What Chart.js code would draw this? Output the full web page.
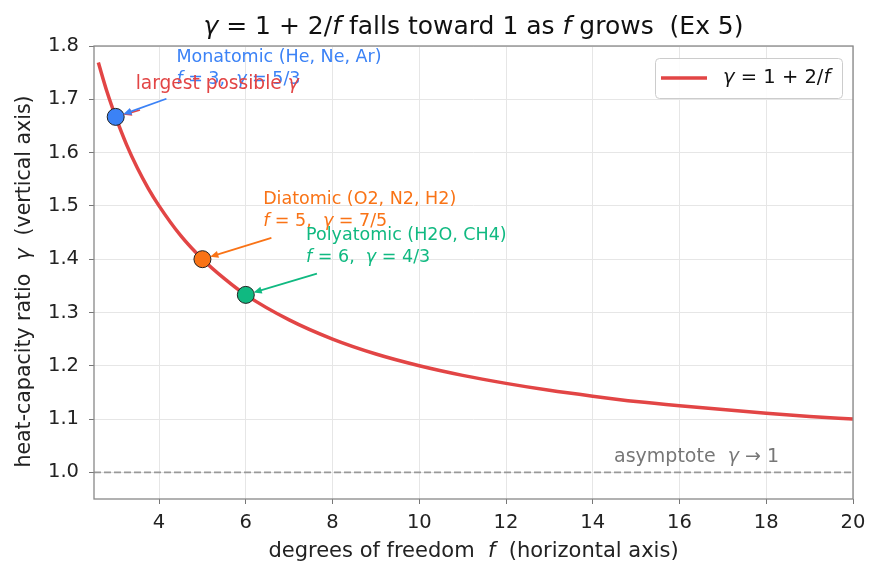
<!DOCTYPE html>
<html>
<head>
<meta charset="utf-8">
<script src="https://cdn.jsdelivr.net/npm/chart.js@4.4.1/dist/chart.umd.min.js"></script>
<style>
  html, body { margin: 0; padding: 0; background: #fff; }
  #wrap { width: 880px; height: 579px; }
</style>
</head>
<body>
<div id="wrap"><canvas id="chart" width="880" height="579"></canvas></div>
<script>
  // ── data ──────────────────────────────────────────────────────────────────
  const curveF = [2.6, 2.8, 3, 3.25, 3.5, 3.75, 4, 4.5, 5, 5.5, 6, 7, 8, 9, 10, 11, 12, 13, 14, 15, 16, 17, 18, 19, 20];
  const curveGamma = [1.769, 1.714, 1.667, 1.615, 1.571, 1.533, 1.5, 1.444, 1.4, 1.364, 1.333, 1.286, 1.25, 1.222, 1.2, 1.182, 1.167, 1.154, 1.143, 1.133, 1.125, 1.118, 1.111, 1.105, 1.1];

  const gasNames = ["Monatomic (He, Ne, Ar)", "Diatomic (O2, N2, H2)", "Polyatomic (H2O, CH4)"];
  const gasF = [3, 5, 6];
  const gasGamma = [1.667, 1.4, 1.333];
  const gasGammaText = ["5/3", "7/5", "4/3"];
  const gasColors = ["#3b82f6", "#f97316", "#10b981"];

  const xTicks = [4, 6, 8, 10, 12, 14, 16, 18, 20];
  const yTicks = [1.0, 1.1, 1.2, 1.3, 1.4, 1.5, 1.6, 1.7, 1.8];
  const asymptote = 1.0;

  const FONT = '"DejaVu Sans", sans-serif';
  const RED = "#e24545";

  // label anchors (data coordinates) for the callouts
  const labelAt = [
    { f: 4.40, g: 1.778, tail: [4.17, 1.701] },
    { f: 6.40, g: 1.512, tail: [6.59, 1.440] },
    { f: 7.39, g: 1.444, tail: [7.64, 1.373] },
  ];

  // ── helpers ───────────────────────────────────────────────────────────────
  function drawRich(ctx, parts, x, y, size, color, align) {
    ctx.save();
    ctx.fillStyle = color;
    ctx.textBaseline = "middle";
    ctx.textAlign = "left";
    let w = 0;
    parts.forEach(([t, it]) => {
      ctx.font = (it ? "italic " : "") + size + "px " + FONT;
      w += ctx.measureText(t).width;
    });
    let cx = align === "center" ? x - w / 2 : x;
    parts.forEach(([t, it]) => {
      ctx.font = (it ? "italic " : "") + size + "px " + FONT;
      ctx.fillText(t, cx, y);
      cx += ctx.measureText(t).width;
    });
    ctx.restore();
  }

  function arrow(ctx, x1, y1, x2, y2, color, shrink) {
    const a = Math.atan2(y2 - y1, x2 - x1);
    x2 -= Math.cos(a) * shrink;
    y2 -= Math.sin(a) * shrink;
    ctx.save();
    ctx.strokeStyle = color;
    ctx.fillStyle = color;
    ctx.lineWidth = 1.8;
    ctx.beginPath();
    ctx.moveTo(x1, y1);
    ctx.lineTo(x2 - Math.cos(a) * 4, y2 - Math.sin(a) * 4);
    ctx.stroke();
    ctx.beginPath();
    ctx.moveTo(x2, y2);
    ctx.lineTo(x2 - 9 * Math.cos(a - 0.4), y2 - 9 * Math.sin(a - 0.4));
    ctx.lineTo(x2 - 9 * Math.cos(a + 0.4), y2 - 9 * Math.sin(a + 0.4));
    ctx.closePath();
    ctx.fill();
    ctx.restore();
  }

  // ── extra drawing: frame, title, labels, callouts, legend ────────────────
  const decor = {
    id: "decor",
    beforeDatasetsDraw(chart) {
      const { ctx, chartArea: a, scales: { y } } = chart;
      // dashed asymptote
      const ya = y.getPixelForValue(asymptote);
      ctx.save();
      ctx.strokeStyle = "#999";
      ctx.lineWidth = 1.8;
      ctx.setLineDash([7, 3]);
      ctx.beginPath();
      ctx.moveTo(a.left, ya);
      ctx.lineTo(a.right, ya);
      ctx.stroke();
      ctx.restore();
    },
    afterDraw(chart) {
      const { ctx, chartArea: a, scales: { x, y } } = chart;

      // frame
      ctx.save();
      ctx.strokeStyle = "#888";
      ctx.lineWidth = 1.3;
      ctx.strokeRect(a.left, a.top, a.right - a.left, a.bottom - a.top);
      ctx.restore();

      // title
      drawRich(ctx, [["γ", true], [" = 1 + 2/", false], ["f", true], [" falls toward 1 as ", false], ["f", true], [" grows  (Ex 5)", false]],
        (a.left + a.right) / 2, 27, 25, "#111", "center");

      // axis titles
      drawRich(ctx, [["degrees of freedom  ", false], ["f", true], ["  (horizontal axis)", false]],
        (a.left + a.right) / 2, 552, 21, "#222", "center");
      ctx.save();
      ctx.translate(25, (a.top + a.bottom) / 2 + 9);
      ctx.rotate(-Math.PI / 2);
      drawRich(ctx, [["heat-capacity ratio  ", false], ["γ", true], ["  (vertical axis)", false]], 0, 0, 20.5, "#222", "center");
      ctx.restore();

      // asymptote label
      drawRich(ctx, [["asymptote  ", false], ["γ", true], [" → 1", false]],
        x.getPixelForValue(14.49), y.getPixelForValue(1.029), 19, "#777", "left");

      // largest possible gamma (arrow sits under the blue one)
      arrow(ctx, 140, 110, x.getPixelForValue(gasF[0]), y.getPixelForValue(gasGamma[0]), RED, 8);

      // callouts
      gasF.forEach((f, i) => {
        const L = labelAt[i];
        const tx = x.getPixelForValue(L.f), ty = y.getPixelForValue(L.g);
        drawRich(ctx, [[gasNames[i], false]], tx, ty, 17.5, gasColors[i], "left");
        drawRich(ctx, [["f", true], [" = " + f + ",  ", false], ["γ", true], [" = " + gasGammaText[i], false]], tx, ty + 22, 17.5, gasColors[i], "left");
        arrow(ctx, x.getPixelForValue(L.tail[0]), y.getPixelForValue(L.tail[1]),
          x.getPixelForValue(f), y.getPixelForValue(gasGamma[i]), gasColors[i], 8);
      });

      drawRich(ctx, [["largest possible ", false], ["γ", true]],
        x.getPixelForValue(3.46), y.getPixelForValue(1.728), 18.6, RED, "left");

      // legend
      ctx.save();
      ctx.fillStyle = "rgba(255,255,255,0.85)";
      ctx.strokeStyle = "#ccc";
      ctx.lineWidth = 1;
      ctx.beginPath();
      ctx.roundRect(655.5, 58.5, 187, 40, 4);
      ctx.fill();
      ctx.stroke();
      ctx.strokeStyle = RED;
      ctx.lineWidth = 3.5;
      ctx.beginPath();
      ctx.moveTo(661, 78);
      ctx.lineTo(707, 78);
      ctx.stroke();
      ctx.restore();
      drawRich(ctx, [["γ", true], [" = 1 + 2/", false], ["f", true]], 723, 78, 19.5, "#111", "left");
    },
  };

  // ── chart ────────────────────────────────────────────────────────────────
  document.addEventListener("DOMContentLoaded", () => {
    const ctx = document.getElementById("chart").getContext("2d");
    const tickFont = { family: FONT, size: 19.5 };
    new Chart(ctx, {
      type: "scatter",
      data: {
        datasets: [
          {
            label: "γ = 1 + 2/f",
            data: gasF.map((f, i) => ({ x: f, y: gasGamma[i] })),
            pointRadius: 8.5,
            pointBackgroundColor: gasColors,
            pointBorderColor: "#222",
            pointBorderWidth: 1,
            showLine: false,
            order: 0,
          },
          {
            label: "curve",
            data: curveF.map((f, i) => ({ x: f, y: curveGamma[i] })),
            showLine: true,
            borderColor: RED,
            borderWidth: 3.5,
            pointRadius: 0,
            cubicInterpolationMode: "monotone",
            order: 1,
          },
        ],
      },
      options: {
        responsive: false,
        animation: false,
        layout: { padding: { top: 46, right: 27, left: 0, bottom: 0 } },
        plugins: { legend: { display: false }, title: { display: false }, tooltip: { enabled: false } },
        scales: {
          x: {
            type: "linear",
            min: 2.5,
            max: 20,
            afterBuildTicks: (s) => { s.ticks = xTicks.map((v) => ({ value: v })); },
            afterFit: (s) => { s.height = 80; },
            ticks: { font: tickFont, color: "#222", padding: 7 },
            grid: { color: "#e6e6e6", tickColor: "#777", tickLength: 5 },
            border: { display: false },
          },
          y: {
            min: 0.95,
            max: 1.8,
            afterBuildTicks: (s) => { s.ticks = yTicks.map((v) => ({ value: v })); },
            afterFit: (s) => { s.width = 94; },
            ticks: { font: tickFont, color: "#222", padding: 10, callback: (v) => v.toFixed(1) },
            grid: { color: "#e6e6e6", tickColor: "#777", tickLength: 5 },
            border: { display: false },
          },
        },
      },
      plugins: [decor],
    });
  });
</script>
</body>
</html>
